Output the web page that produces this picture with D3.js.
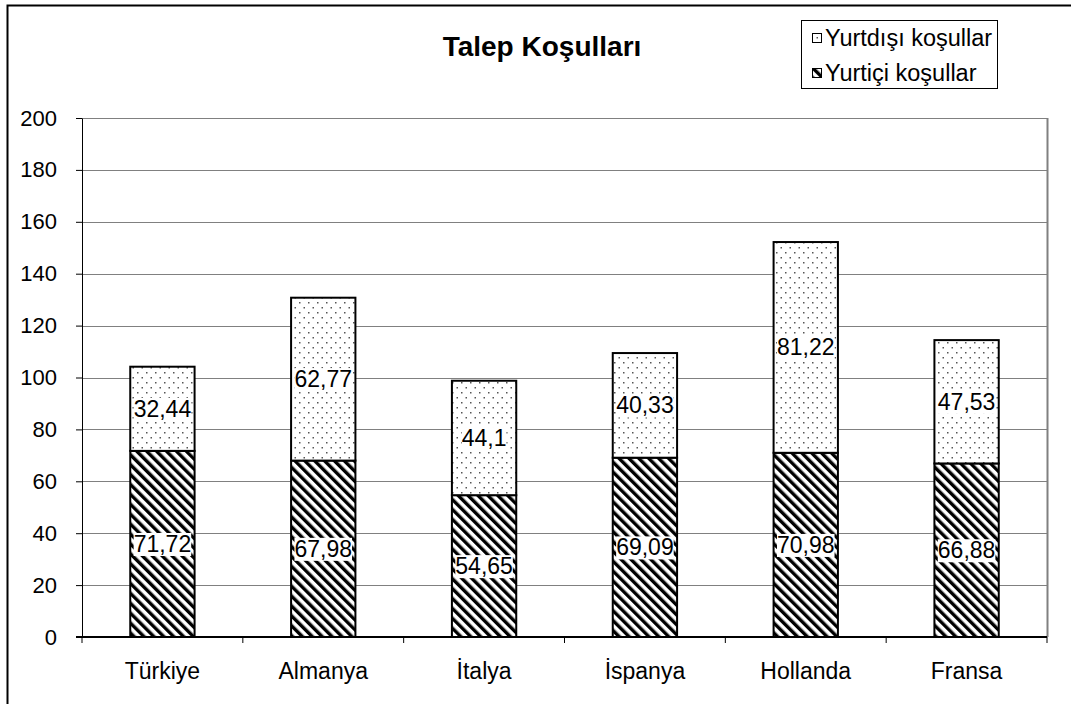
<!DOCTYPE html>
<meta charset="utf-8">
<style>
body { margin: 0; background: #fff; }
text { font-family: "Liberation Sans", Arial, sans-serif; fill: #000; }
.grid line { stroke: #808080; stroke-width: 1px; }
.axis path, .axis line { stroke: #000; }
</style>
<svg width="1071" height="704"></svg>
<script src="https://cdn.jsdelivr.net/npm/d3@7"></script>
<script>

var countries = ["Türkiye", "Almanya", "İtalya", "İspanya", "Hollanda", "Fransa"];
var domestic = [71.72, 67.98, 54.65, 69.09, 70.98, 66.88];
var foreign = [32.44, 62.77, 44.1, 40.33, 81.22, 47.53];
var yTicks = [0, 20, 40, 60, 80, 100, 120, 140, 160, 180, 200];
var seriesNames = ["Yurtdışı koşullar", "Yurtiçi koşullar"];

var svg = d3.select("svg");
var margin = {left: 82, right: 1047, top: 118, bottom: 637};

var x = d3.scaleBand()
    .domain(countries)
    .range([margin.left, margin.right])
    .paddingInner(0.6)
    .paddingOuter(0.3);

var y = d3.scaleLinear()
    .domain([0, 200])
    .range([margin.bottom, margin.top]);

var fmt = function(v) { return String(v).replace(".", ","); };

// patterns
var defs = svg.append("defs");
var hatch = defs.append("pattern")
    .attr("id", "hatch")
    .attr("patternUnits", "userSpaceOnUse")
    .attr("width", 7)
    .attr("height", 7)
    .attr("patternTransform", "rotate(-45)");
hatch.append("rect").attr("width", 7).attr("height", 7).attr("fill", "#fff");
hatch.append("rect").attr("x", 0).attr("width", 3.4).attr("height", 7).attr("fill", "#000");

var dots = defs.append("pattern")
    .attr("id", "dots")
    .attr("patternUnits", "userSpaceOnUse")
    .attr("width", 9)
    .attr("height", 10);
dots.append("rect").attr("width", 9).attr("height", 10).attr("fill", "#fff");
dots.append("rect").attr("x", 2).attr("y", 2).attr("width", 1.5).attr("height", 1.5).attr("fill", "#555");
dots.append("rect").attr("x", 6.5).attr("y", 7).attr("width", 1.5).attr("height", 1.5).attr("fill", "#555");

// outer frame
svg.append("rect")
    .attr("x", 7.5).attr("y", 5.5)
    .attr("width", 1100).attr("height", 800)
    .attr("fill", "none").attr("stroke", "#000").attr("stroke-width", 2);

// gridlines
svg.append("g")
    .attr("class", "grid")
  .selectAll("line")
    .data(yTicks.slice(1))
  .enter().append("line")
    .attr("x1", margin.left).attr("x2", margin.right)
    .attr("y1", function(d) { return Math.round(y(d)) + 0.5; })
    .attr("y2", function(d) { return Math.round(y(d)) + 0.5; });

svg.append("line")
    .attr("x1", margin.right + 0.5).attr("x2", margin.right + 0.5)
    .attr("y1", margin.top).attr("y2", margin.bottom)
    .attr("stroke", "#808080").attr("stroke-width", 2);

// bars
var rows = countries.map(function(c, i) { return {c: c, d: domestic[i], f: foreign[i]}; });

var g = svg.append("g");
g.selectAll(".dom")
    .data(rows)
  .enter().append("rect")
    .attr("x", function(r) { return x(r.c); })
    .attr("width", x.bandwidth())
    .attr("y", function(r) { return y(r.d); })
    .attr("height", function(r) { return y(0) - y(r.d); })
    .attr("fill", "url(#hatch)")
    .attr("stroke", "#000").attr("stroke-width", 2);

g.selectAll(".for")
    .data(rows)
  .enter().append("rect")
    .attr("x", function(r) { return x(r.c); })
    .attr("width", x.bandwidth())
    .attr("y", function(r) { return y(r.d + r.f); })
    .attr("height", function(r) { return y(r.d) - y(r.d + r.f); })
    .attr("fill", "url(#dots)")
    .attr("stroke", "#000").attr("stroke-width", 2);

// labels
function label(cx, cy, txt) {
  var t = svg.append("text")
      .attr("x", cx).attr("y", cy)
      .attr("text-anchor", "middle")
      .attr("dy", "0.35em")
      .style("font-size", "23px")
      .text(txt);
  var b = t.node().getBBox();
  svg.insert("rect", function() { return t.node(); })
      .attr("x", b.x).attr("y", b.y + 2)
      .attr("width", b.width).attr("height", b.height - 3)
      .attr("fill", "#fff");
}
rows.forEach(function(r) {
  var cx = x(r.c) + x.bandwidth() / 2;
  label(cx, y(r.d / 2), fmt(r.d));
  label(cx, y(r.d + r.f / 2), fmt(r.f));
});

// axes
svg.append("g")
    .attr("class", "axis")
    .attr("transform", "translate(" + margin.left + ",0)")
    .call(d3.axisLeft(y).tickValues(yTicks).tickSize(6).tickPadding(8).tickSizeOuter(0))
    .call(function(a) {
      a.selectAll("text").attr("dx", "-11").style("font-size", "22px").attr("fill", "#000");
    });

var xAxis = svg.append("g")
    .attr("class", "axis")
    .attr("transform", "translate(0," + margin.bottom + ")");
xAxis.append("line")
    .attr("x1", margin.left - 6).attr("x2", margin.right)
    .attr("stroke", "#000").attr("stroke-width", 2);
xAxis.selectAll(".tk")
    .data(d3.range(countries.length + 1))
  .enter().append("line")
    .attr("x1", function(i) { return margin.left + i * (margin.right - margin.left) / countries.length; })
    .attr("x2", function(i) { return margin.left + i * (margin.right - margin.left) / countries.length; })
    .attr("y1", 0).attr("y2", 6)
    .attr("stroke", "#000");
xAxis.selectAll(".lbl")
    .data(countries)
  .enter().append("text")
    .attr("x", function(c) { return x(c) + x.bandwidth() / 2; })
    .attr("y", 42)
    .attr("text-anchor", "middle")
    .style("font-size", "23px")
    .text(function(c) { return c; });

// title
svg.append("text")
    .attr("x", 542).attr("y", 56)
    .attr("text-anchor", "middle")
    .style("font-size", "28px")
    .style("font-weight", "bold")
    .text("Talep Koşulları");

// legend
var leg = svg.append("g");
leg.append("rect")
    .attr("x", 801.5).attr("y", 20.5)
    .attr("width", 196).attr("height", 68)
    .attr("fill", "#fff").attr("stroke", "#000");
var legFills = ["url(#dots)", "url(#hatch)"];
seriesNames.forEach(function(n, i) {
  var yy = 38 + i * 35;
  leg.append("rect")
      .attr("x", 812.5).attr("y", yy - 4.5)
      .attr("width", 9).attr("height", 9)
      .attr("fill", legFills[i])
      .attr("stroke", "#000");
  leg.append("text")
      .attr("x", 825).attr("y", yy)
      .attr("dy", "0.35em")
      .style("font-size", "23.5px")
      .text(n);
});

</script>
